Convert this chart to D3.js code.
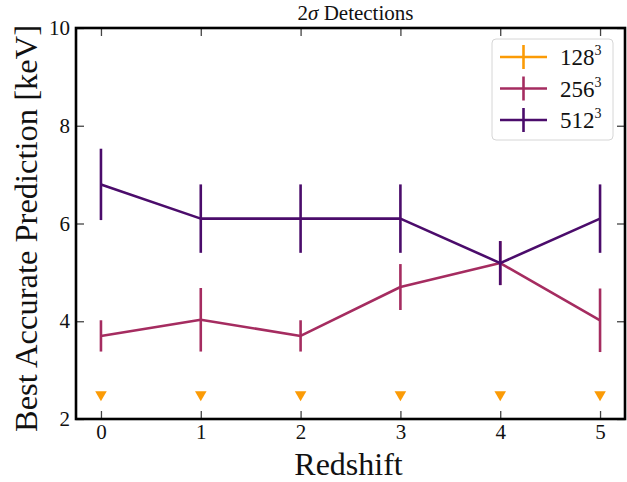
<!DOCTYPE html>
<html>
<head>
<meta charset="utf-8">
<script src="https://cdn.jsdelivr.net/npm/d3@7"></script>
<style>
  body { margin: 0; background: #fff; }
  svg { display: block; }
  text { font-family: "Liberation Serif", "DejaVu Serif", serif; fill: #111; }
</style>
</head>
<body>
<svg id="chart" width="627" height="482"></svg>
<script>
// Redshift bins
const redshifts = [0, 1, 2, 3, 4, 5];

// Best accurate prediction per box resolution (keV) with symmetric errors
const res128Upper = [2.5, 2.5, 2.5, 2.5, 2.5, 2.5];   // upper limits only
const res256 = [3.70, 4.03, 3.70, 4.70, 5.19, 4.02];
const res256Err = [0.32, 0.65, 0.32, 0.47, 0.45, 0.65];
const res512 = [6.80, 6.10, 6.10, 6.10, 5.19, 6.10];
const res512Err = [0.73, 0.70, 0.70, 0.70, 0.45, 0.70];

const xTicks = [0, 1, 2, 3, 4, 5];
const yTicks = [2, 4, 6, 8, 10];

const colors = { r128: "#fb9b06", r256: "#a52c60", r512: "#4b0c6b" };

const svg = d3.select("#chart");
const m = { left: 76, right: 625, top: 28, bottom: 419 };

const x = d3.scaleLinear().domain([-0.25, 5.25]).range([m.left, m.right]);
const y = d3.scaleLinear().domain([2, 10]).range([m.bottom, m.top]);

const plot = svg.append("g");

// Inward ticks on all four sides
const tickLen = 8;
const tickColor = "#444";
const axisStyle = g => {
  g.select(".domain").remove();
  g.selectAll(".tick line").attr("stroke", tickColor).attr("stroke-width", 1.3);
  g.selectAll(".tick text").style("font-family", "'Liberation Serif', serif").style("font-size", "21px").attr("fill", "#222");
};

svg.append("g").attr("transform", `translate(0,${m.bottom})`)
  .call(d3.axisBottom(x).tickValues(xTicks).tickSize(-tickLen).tickPadding(5).tickFormat(d3.format("d")))
  .call(axisStyle)
  .call(g => g.selectAll(".tick text").attr("dy", "0.72em"));

svg.append("g").attr("transform", `translate(0,${m.top})`)
  .call(d3.axisTop(x).tickValues(xTicks).tickSize(-tickLen).tickFormat(""))
  .call(axisStyle);

svg.append("g").attr("transform", `translate(${m.left},0)`)
  .call(d3.axisLeft(y).tickValues(yTicks).tickSize(-tickLen).tickPadding(6).tickFormat(d3.format("d")))
  .call(axisStyle);

svg.append("g").attr("transform", `translate(${m.right},0)`)
  .call(d3.axisRight(y).tickValues(yTicks).tickSize(-tickLen).tickFormat(""))
  .call(axisStyle);

// Series lines with vertical error bars
function drawSeries(vals, errs, color) {
  const line = d3.line().x((d, i) => x(redshifts[i])).y(d => y(d));
  plot.append("path").datum(vals)
    .attr("d", line).attr("fill", "none")
    .attr("stroke", color).attr("stroke-width", 2.6)
    .attr("stroke-linejoin", "round");
  plot.selectAll(null).data(vals).enter().append("line")
    .attr("x1", (d, i) => x(redshifts[i])).attr("x2", (d, i) => x(redshifts[i]))
    .attr("y1", (d, i) => y(d + errs[i])).attr("y2", (d, i) => y(d - errs[i]))
    .attr("stroke", color).attr("stroke-width", 2.6);
}
drawSeries(res256, res256Err, colors.r256);
drawSeries(res512, res512Err, colors.r512);

// 128^3 upper limits as downward triangles
const tri = d3.symbol().type(d3.symbolTriangle).size(58);
plot.selectAll(null).data(res128Upper).enter().append("path")
  .attr("d", tri())
  .attr("transform", (d, i) => `translate(${x(redshifts[i])},${y(d)}) rotate(180)`)
  .attr("fill", colors.r128);

// Frame
svg.append("rect")
  .attr("x", m.left).attr("y", m.top)
  .attr("width", m.right - m.left).attr("height", m.bottom - m.top)
  .attr("fill", "none").attr("stroke", "#000").attr("stroke-width", 2.6);

// Title
const title = svg.append("text")
  .attr("x", (m.left + m.right) / 2 + 5).attr("y", 20)
  .attr("text-anchor", "middle").style("font-size", "21px");
title.append("tspan").text("2");
title.append("tspan").style("font-style", "italic").text("σ");
title.append("tspan").text(" Detections");

// Axis labels
svg.append("text")
  .attr("x", (m.left + m.right) / 2 - 2).attr("y", 475)
  .attr("text-anchor", "middle").style("font-size", "32px")
  .text("Redshift");

svg.append("text")
  .attr("transform", `translate(37,${(m.top + m.bottom) / 2 + 5}) rotate(-90)`)
  .attr("text-anchor", "middle").style("font-size", "32.5px")
  .text("Best Accurate Prediction [keV]");

// Legend
const legendItems = [
  { label: "128", color: colors.r128 },
  { label: "256", color: colors.r256 },
  { label: "512", color: colors.r512 }
];
const lg = svg.append("g").attr("transform", "translate(492,39)");
lg.append("rect")
  .attr("width", 121).attr("height", 101).attr("rx", 4)
  .attr("fill", "#fff").attr("fill-opacity", 0.85)
  .attr("stroke", "#d6d6d6").attr("stroke-width", 1);
legendItems.forEach((d, i) => {
  const cy = 18 + i * 31.5;
  lg.append("line").attr("x1", 8).attr("x2", 55).attr("y1", cy).attr("y2", cy)
    .attr("stroke", d.color).attr("stroke-width", 2.6);
  lg.append("line").attr("x1", 31.5).attr("x2", 31.5).attr("y1", cy - 12).attr("y2", cy + 12)
    .attr("stroke", d.color).attr("stroke-width", 2.6);
  const t = lg.append("text").attr("x", 68).attr("y", cy + 8).style("font-size", "23px");
  t.append("tspan").text(d.label);
  t.append("tspan").attr("dy", -10).style("font-size", "14px").text("3");
});
</script>
</body>
</html>
